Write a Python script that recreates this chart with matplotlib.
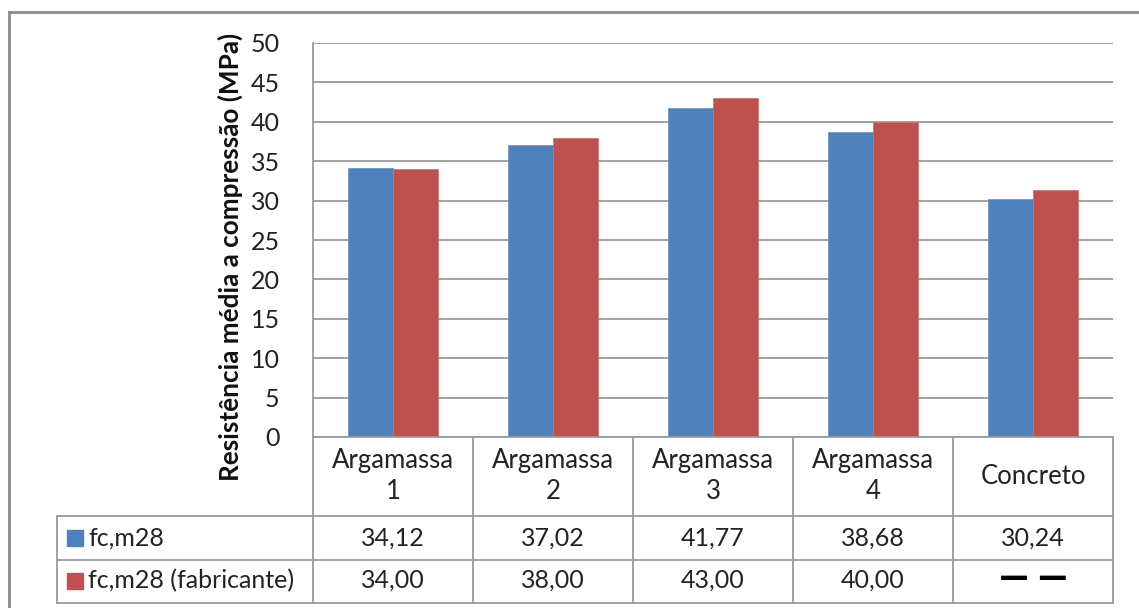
import matplotlib.pyplot as plt
from matplotlib.lines import Line2D
from matplotlib.patches import Rectangle

plt.rcParams['font.family'] = ['Lato', 'DejaVu Sans']

categorias = ['Argamassa\n1', 'Argamassa\n2', 'Argamassa\n3', 'Argamassa\n4', 'Concreto']
fc_m28 = [34.12, 37.02, 41.77, 38.68, 30.24]
fc_fabricante = [34.00, 38.00, 43.00, 40.00, 31.3]
txt_m28 = ['34,12', '37,02', '41,77', '38,68', '30,24']
txt_fab = ['34,00', '38,00', '43,00', '40,00', '— —']
series = ['fc,m28', 'fc,m28 (fabricante)']
cores = ['#4F81BD', '#C0504D']

W, H = 1139, 608
fig = plt.figure(figsize=(W / 100, H / 100), dpi=100)


def fx(x):
    return x / W


def fy(y):
    return 1 - y / H


ax = fig.add_axes([fx(313), fy(437), fx(1113) - fx(313), fy(43) - fy(437)])

n = len(categorias)
xs = list(range(n))
w = 0.28
ax.bar([x - w / 2 for x in xs], fc_m28, w, color=cores[0], edgecolor='#6f97c9', linewidth=0.6, zorder=3)
ax.bar([x + w / 2 for x in xs], fc_fabricante, w, color=cores[1], edgecolor='#d27470', linewidth=0.6, zorder=3)

ax.set_xlim(-0.5, n - 0.5)
ax.set_ylim(0, 50)
ax.set_yticks(range(0, 51, 5))
ax.set_xticks([])
ax.tick_params(axis='y', length=0, pad=24, labelsize=18, labelcolor='#222222')
ax.grid(axis='y', color='#9a9a9a', linewidth=1.3, zorder=0)
for s in ['top', 'right', 'bottom']:
    ax.spines[s].set_visible(False)
ax.spines['left'].set_color('#9a9a9a')
ax.spines['left'].set_linewidth(1.3)

fig.text(fx(230), fy(257), 'Resistência média a compressão (MPa)', rotation=90,
         ha='center', va='center', fontsize=18.8, fontweight='bold', color='#111111')

# tabela de dados abaixo do eixo
lc = '#9a9a9a'


def linha(x0, y0, x1, y1, cor=lc, lw=1.3):
    fig.add_artist(Line2D([fx(x0), fx(x1)], [fy(y0), fy(y1)], color=cor, linewidth=lw,
                          transform=fig.transFigure))


col0, colw = 313, 160
linha(col0, 437, col0 + colw * n, 437)
for y in [516, 560, 603]:
    linha(57, y, col0 + colw * n, y)
linha(57, 516, 57, 603)
for i in range(n + 1):
    linha(col0 + colw * i, 437, col0 + colw * i, 603)

for i in range(n):
    cx = col0 + colw * (i + 0.5)
    fig.text(fx(cx), fy(476), categorias[i], ha='center', va='center', fontsize=18.5,
             color='#222222', linespacing=1.3)
    fig.text(fx(cx), fy(538), txt_m28[i], ha='center', va='center', fontsize=18, color='#222222')
    if txt_fab[i].startswith('—'):
        fig.text(fx(cx), fy(579), txt_fab[i], ha='center', va='center', fontsize=27,
                 fontweight='heavy', color='black')
    else:
        fig.text(fx(cx), fy(580), txt_fab[i], ha='center', va='center', fontsize=18, color='#222222')

for j, (nome, y) in enumerate(zip(series, [538, 581])):
    fig.add_artist(Rectangle((fx(67), fy(y + 8)), fx(16), fy(0) - fy(16), color=cores[j],
                             transform=fig.transFigure))
    fig.text(fx(88), fy(y), nome, ha='left', va='center', fontsize=18, color='#222222')

# moldura externa
linha(9, 12, W, 12, cor='#8c8c8c', lw=2)
linha(9, 12, 9, H, cor='#8c8c8c', lw=2)

fig.savefig('out.png', dpi=100)
